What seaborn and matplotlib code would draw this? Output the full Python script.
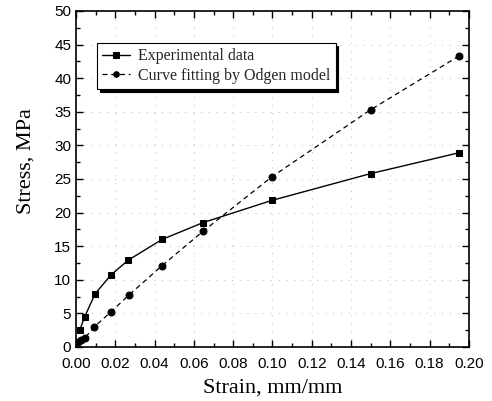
import matplotlib
matplotlib.use("Agg")
import matplotlib.pyplot as plt
import seaborn as sns
import pandas as pd
from matplotlib.ticker import MultipleLocator

exp_strain = [0.0019, 0.0044, 0.0097, 0.0177, 0.0265, 0.0438, 0.0646, 0.0996, 0.150, 0.195]
exp_stress = [2.5, 4.5, 7.9, 10.7, 12.9, 16.0, 18.5, 21.8, 25.8, 28.9]
odg_strain = [0.0012, 0.0025, 0.0047, 0.0093, 0.0177, 0.0268, 0.0438, 0.0646, 0.0996, 0.150, 0.195]
odg_stress = [0.8, 1.1, 1.4, 3.0, 5.2, 7.7, 12.1, 17.2, 25.3, 35.3, 43.3]

sns.set_theme(style="ticks")
plt.rcParams['font.family'] = ['Liberation Sans', 'DejaVu Sans']

fig = plt.figure(figsize=(4.92, 4.01), dpi=100)
ax = fig.add_axes([0.1545, 0.1347, 0.7985, 0.838])

df_exp = pd.DataFrame({"strain": exp_strain, "stress": exp_stress})
df_odg = pd.DataFrame({"strain": odg_strain, "stress": odg_stress})

sns.lineplot(data=df_exp, x="strain", y="stress", ax=ax, color="black", lw=1.0,
             marker="s", markersize=5, markeredgecolor="black", label="Experimental data")
sns.lineplot(data=df_odg, x="strain", y="stress", ax=ax, color="black", lw=0.9,
             linestyle=(0, (4, 3)), marker="o", markersize=5, markeredgecolor="black",
             label="Curve fitting by Odgen model")

ax.set_xlim(0, 0.20)
ax.set_ylim(0, 50)
ax.xaxis.set_major_locator(MultipleLocator(0.02))
ax.xaxis.set_minor_locator(MultipleLocator(0.01))
ax.yaxis.set_major_locator(MultipleLocator(5))
ax.yaxis.set_minor_locator(MultipleLocator(2.5))
ax.set_xticklabels([f"{v:.2f}" for v in ax.get_xticks()])
ax.tick_params(which="both", direction="in", top=True, right=True, colors="black",
               labelsize=11, width=1.0)
ax.tick_params(which="major", length=5)
ax.tick_params(which="minor", length=3)
ax.tick_params(axis="x", pad=7)
ax.grid(True, which="major", color="#bbbbbb", linestyle=(0, (1, 7)), lw=0.7)
for s in ax.spines.values():
    s.set_color("black")
    s.set_linewidth(1.2)

ax.set_xlabel("Strain, mm/mm", family=["Liberation Serif"], fontsize=16, labelpad=6, color="black")
ax.set_ylabel("Stress, MPa", family=["Liberation Serif"], fontsize=16, color="black")
ax.yaxis.set_label_coords(-0.104, 0.554)

leg = ax.legend(loc="upper left", bbox_to_anchor=(0.053, 0.905), borderaxespad=0,
                prop={"family": "Liberation Serif", "size": 11.5},
                frameon=True, fancybox=False, shadow={"color": "black", "alpha": 1.0},
                handlelength=1.7, handletextpad=0.5, borderpad=0.35, labelspacing=0.2,
                markerscale=0.8)
leg.get_frame().set_edgecolor("black")
leg.get_frame().set_linewidth(0.8)

fig.savefig("out.png", dpi=100)
